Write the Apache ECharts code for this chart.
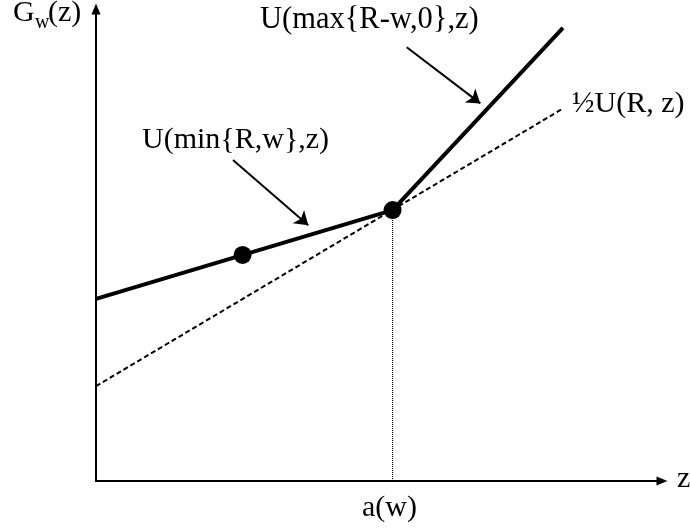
<!DOCTYPE html>
<html>
<head>
<meta charset="utf-8">
<script src="https://cdn.jsdelivr.net/npm/echarts@6/dist/echarts.min.js"></script>
<style>
  html, body { margin: 0; padding: 0; background: #fff; }
  #chart { width: 690px; height: 529px; }
</style>
</head>
<body>
<div id="chart"></div>
<script>
// Piecewise utility G_w(z): kink at a(w)
const aW = 5.24;
const solidCurve = [[0, 3.86], [aW, 5.74], [8.25, 9.60]];   // U(min{R,w},z) then U(max{R-w,0},z)
const halfCurve = [[0, 2.01], [8.22, 7.87]];               // ½U(R, z)
const dots = [[2.59, 4.79], [aW, 5.74]];
const dropLine = [[aW, 0], [aW, 5.74]];
const minArrow = [[2.42, 6.80], [3.75, 5.42]];
const maxArrow = [[5.49, 9.19], [6.79, 8.00]];

const serif = "'Liberation Serif', 'Times New Roman', serif";

const chart = echarts.init(document.getElementById('chart'), null, { renderer: 'canvas' });

function txt(text, x, y, size) {
  return {
    type: 'text', x: x, y: y, silent: true,
    style: { text: text, fontFamily: serif, fontSize: size || 30, fill: '#000',
             align: 'left', verticalAlign: 'middle' }
  };
}

chart.setOption({
  animation: false,
  backgroundColor: '#fff',
  grid: { left: 96, right: 28, top: 9, bottom: 48 },
  xAxis: {
    type: 'value', min: 0, max: 10,
    axisLine: { show: true, onZero: false, symbol: ['none', 'triangle'], symbolSize: [9, 11],
                lineStyle: { color: '#000', width: 2 } },
    axisTick: { show: false }, axisLabel: { show: false }, splitLine: { show: false }
  },
  yAxis: {
    type: 'value', min: 0, max: 10,
    axisLine: { show: true, onZero: false, symbol: ['none', 'triangle'], symbolSize: [9, 11],
                lineStyle: { color: '#000', width: 2 } },
    axisTick: { show: false }, axisLabel: { show: false }, splitLine: { show: false }
  },
  series: [
    {
      type: 'line', data: dropLine, symbol: 'none', z: 1,
      lineStyle: { color: '#000', width: 1.2, type: [1, 1] }
    },
    {
      type: 'line', data: halfCurve, symbol: 'none', z: 2,
      lineStyle: { color: '#000', width: 2, type: [5, 3] }
    },
    {
      type: 'line', data: solidCurve, symbol: 'none', z: 3,
      lineStyle: { color: '#000', width: 4 },
      markLine: {
        silent: true, animation: false,
        symbol: ['none', 'arrow'], symbolSize: 13,
        label: { show: false },
        lineStyle: { color: '#000', width: 2, type: 'solid' },
        data: [
          [{ coord: minArrow[0] }, { coord: minArrow[1] }],
          [{ coord: maxArrow[0] }, { coord: maxArrow[1] }]
        ]
      }
    },
    {
      type: 'scatter', data: dots, symbol: 'circle', symbolSize: 18, z: 4,
      itemStyle: { color: '#000', opacity: 1 }
    }
  ],
  graphic: [
    txt('G', 13, 13),
    txt('w', 35, 23, 20),
    txt('(z)', 48, 13),
    txt('U(max{R-w,0},z)', 260, 20, 30.5),
    txt('U(min{R,w},z)', 142, 140),
    txt('\u00BDU(R, z)', 572, 104),
    txt('a(w)', 362, 508),
    txt('z', 677, 479)
  ]
});
</script>
</body>
</html>
